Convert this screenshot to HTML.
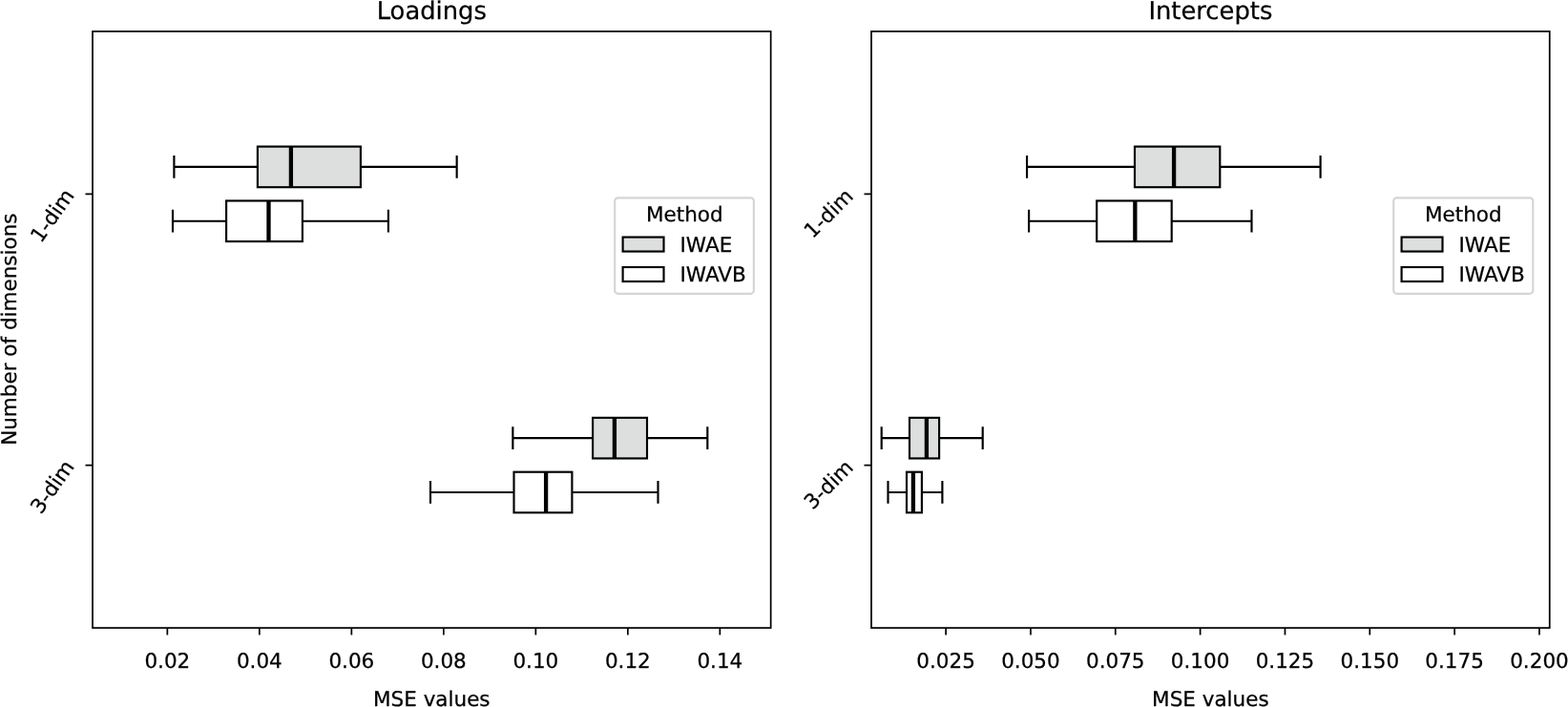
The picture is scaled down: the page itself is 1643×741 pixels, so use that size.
<!DOCTYPE html>
<html lang="en">
<head>
<meta charset="utf-8">
<title>MSE values: Loadings and Intercepts</title>
<style>
html,body{margin:0;padding:0;background:#fff;}
body{width:1643px;height:741px;overflow:hidden;font-family:"DejaVu Sans", "Liberation Sans", sans-serif;}
svg{display:block;}
svg text{font-kerning:normal;text-rendering:geometricPrecision;stroke:#000;stroke-width:0.25px;stroke-linejoin:round;}
</style>
</head>
<body>
<svg role="img" aria-label="Box plots of MSE values for Loadings and Intercepts" width="1643" height="741" viewBox="0 0 1643 741" font-family='"DejaVu Sans", "Liberation Sans", sans-serif' font-size="21.5px" fill="#000">
<rect width="1643" height="741" fill="#fff"/>
<g class="axes">
<path d="M182.4 174.91H269.9M377.9 174.91H478.65M182.4 164.06V185.56M478.65 164.06V185.56" fill="none" stroke="#000" stroke-width="2.15" stroke-linecap="square"/>
<rect x="269.9" y="153.61" width="108" height="42.6" fill="#dddfde" stroke="#000" stroke-width="2.15"/>
<path d="M304.9 153.61V196.21" fill="none" stroke="#000" stroke-width="4.3" stroke-linecap="butt"/>
<path d="M181 231.75H237.1M316.9 231.75H406.9M181 220.9V242.4M406.9 220.9V242.4" fill="none" stroke="#000" stroke-width="2.15" stroke-linecap="square"/>
<rect x="237.1" y="210.45" width="79.8" height="42.6" fill="#fff" stroke="#000" stroke-width="2.15"/>
<path d="M281.5 210.45V253.05" fill="none" stroke="#000" stroke-width="4.3" stroke-linecap="butt"/>
<path d="M537.35 459.15H621.1M678 459.15H741.3M537.35 448.3V469.8M741.3 448.3V469.8" fill="none" stroke="#000" stroke-width="2.15" stroke-linecap="square"/>
<rect x="621.1" y="437.85" width="56.9" height="42.6" fill="#dddfde" stroke="#000" stroke-width="2.15"/>
<path d="M643.9 437.85V480.45" fill="none" stroke="#000" stroke-width="4.3" stroke-linecap="butt"/>
<path d="M451 515.99H538.5M599.4 515.99H689.5M451 505.14V526.64M689.5 505.14V526.64" fill="none" stroke="#000" stroke-width="2.15" stroke-linecap="square"/>
<rect x="538.5" y="494.69" width="60.9" height="42.6" fill="#fff" stroke="#000" stroke-width="2.15"/>
<path d="M572.1 494.69V537.29" fill="none" stroke="#000" stroke-width="4.3" stroke-linecap="butt"/>
<path d="M175.35 658.1v7.5M271.85 658.1v7.5M368.35 658.1v7.5M464.85 658.1v7.5M561.35 658.1v7.5M657.85 658.1v7.5M754.35 658.1v7.5M97 203.33h-7.5M97 487.57h-7.5" fill="none" stroke="#000" stroke-width="1.72"/>
<rect x="97" y="32.9" width="710.65" height="625.2" fill="none" stroke="#000" stroke-width="1.72"/>
<text x="175.35" y="700.2" text-anchor="middle">0.02</text>
<text x="271.85" y="700.2" text-anchor="middle">0.04</text>
<text x="368.35" y="700.2" text-anchor="middle">0.06</text>
<text x="464.85" y="700.2" text-anchor="middle">0.08</text>
<text x="561.35" y="700.2" text-anchor="middle">0.10</text>
<text x="657.85" y="700.2" text-anchor="middle">0.12</text>
<text x="754.35" y="700.2" text-anchor="middle">0.14</text>
<text transform="translate(42.88 255.6) rotate(-55)">1-dim</text>
<text transform="translate(42.88 539.84) rotate(-55)">3-dim</text>
<text x="452.32" y="739.9" text-anchor="middle">MSE values</text>
<text x="452.32" y="20" text-anchor="middle" font-size="25.8px">Loadings</text>
<rect x="644.2" y="207.35" width="145.65" height="100.45" rx="3.4" fill="#fff" stroke="#d4d6d5" stroke-width="2.15"/>
<text x="717.28" y="232.1" text-anchor="middle">Method</text>
<rect x="652.6" y="248.55" width="42.9" height="15.0" fill="#dddfde" stroke="#000" stroke-width="2.15"/>
<text x="712.5" y="263.9">IWAE</text>
<rect x="652.6" y="280" width="42.9" height="15.0" fill="#fff" stroke="#000" stroke-width="2.15"/>
<text x="712.5" y="295.1">IWAVB</text>
</g>
<g class="axes">
<path d="M1076.05 174.91H1189M1278.3 174.91H1383.6M1076.05 164.06V185.56M1383.6 164.06V185.56" fill="none" stroke="#000" stroke-width="2.15" stroke-linecap="square"/>
<rect x="1189" y="153.61" width="89.3" height="42.6" fill="#dddfde" stroke="#000" stroke-width="2.15"/>
<path d="M1230.1 153.61V196.21" fill="none" stroke="#000" stroke-width="4.3" stroke-linecap="butt"/>
<path d="M1078.1 231.75H1149.2M1227.7 231.75H1311.5M1078.1 220.9V242.4M1311.5 220.9V242.4" fill="none" stroke="#000" stroke-width="2.15" stroke-linecap="square"/>
<rect x="1149.2" y="210.45" width="78.5" height="42.6" fill="#fff" stroke="#000" stroke-width="2.15"/>
<path d="M1189.35 210.45V253.05" fill="none" stroke="#000" stroke-width="4.3" stroke-linecap="butt"/>
<path d="M923.7 459.15H953M984.1 459.15H1029.7M923.7 448.3V469.8M1029.7 448.3V469.8" fill="none" stroke="#000" stroke-width="2.15" stroke-linecap="square"/>
<rect x="953" y="437.85" width="31.1" height="42.6" fill="#dddfde" stroke="#000" stroke-width="2.15"/>
<path d="M970.9 437.85V480.45" fill="none" stroke="#000" stroke-width="4.3" stroke-linecap="butt"/>
<path d="M930.5 515.99H950M965.9 515.99H987.4M930.5 505.14V526.64M987.4 505.14V526.64" fill="none" stroke="#000" stroke-width="2.15" stroke-linecap="square"/>
<rect x="950" y="494.69" width="15.9" height="42.6" fill="#fff" stroke="#000" stroke-width="2.15"/>
<path d="M956.9 494.69V537.29" fill="none" stroke="#000" stroke-width="4.3" stroke-linecap="butt"/>
<path d="M991.1 658.1v7.5M1079.94 658.1v7.5M1168.78 658.1v7.5M1257.62 658.1v7.5M1346.46 658.1v7.5M1435.3 658.1v7.5M1524.14 658.1v7.5M1612.98 658.1v7.5M913 203.33h-7.5M913 487.57h-7.5" fill="none" stroke="#000" stroke-width="1.72"/>
<rect x="913" y="32.9" width="710.75" height="625.2" fill="none" stroke="#000" stroke-width="1.72"/>
<text x="991.1" y="700.2" text-anchor="middle">0.025</text>
<text x="1079.94" y="700.2" text-anchor="middle">0.050</text>
<text x="1168.78" y="700.2" text-anchor="middle">0.075</text>
<text x="1257.62" y="700.2" text-anchor="middle">0.100</text>
<text x="1346.46" y="700.2" text-anchor="middle">0.125</text>
<text x="1435.3" y="700.2" text-anchor="middle">0.150</text>
<text x="1524.14" y="700.2" text-anchor="middle">0.175</text>
<text x="1612.98" y="700.2" text-anchor="middle">0.200</text>
<text transform="translate(851.58 250.82) rotate(-45)">1-dim</text>
<text transform="translate(851.58 535.06) rotate(-45)">3-dim</text>
<text x="1268.38" y="739.9" text-anchor="middle">MSE values</text>
<text x="1268.38" y="20" text-anchor="middle" font-size="25.8px">Intercepts</text>
<rect x="1460.2" y="207.35" width="146.1" height="100.45" rx="3.4" fill="#fff" stroke="#d4d6d5" stroke-width="2.15"/>
<text x="1533.28" y="232.1" text-anchor="middle">Method</text>
<rect x="1468.6" y="248.55" width="42.9" height="15.0" fill="#dddfde" stroke="#000" stroke-width="2.15"/>
<text x="1528.5" y="263.9">IWAE</text>
<rect x="1468.6" y="280" width="42.9" height="15.0" fill="#fff" stroke="#000" stroke-width="2.15"/>
<text x="1528.5" y="295.1">IWAVB</text>
</g>
<text transform="translate(17 345.2) rotate(-90)" text-anchor="middle">Number of dimensions</text>
</svg>
</body>
</html>
